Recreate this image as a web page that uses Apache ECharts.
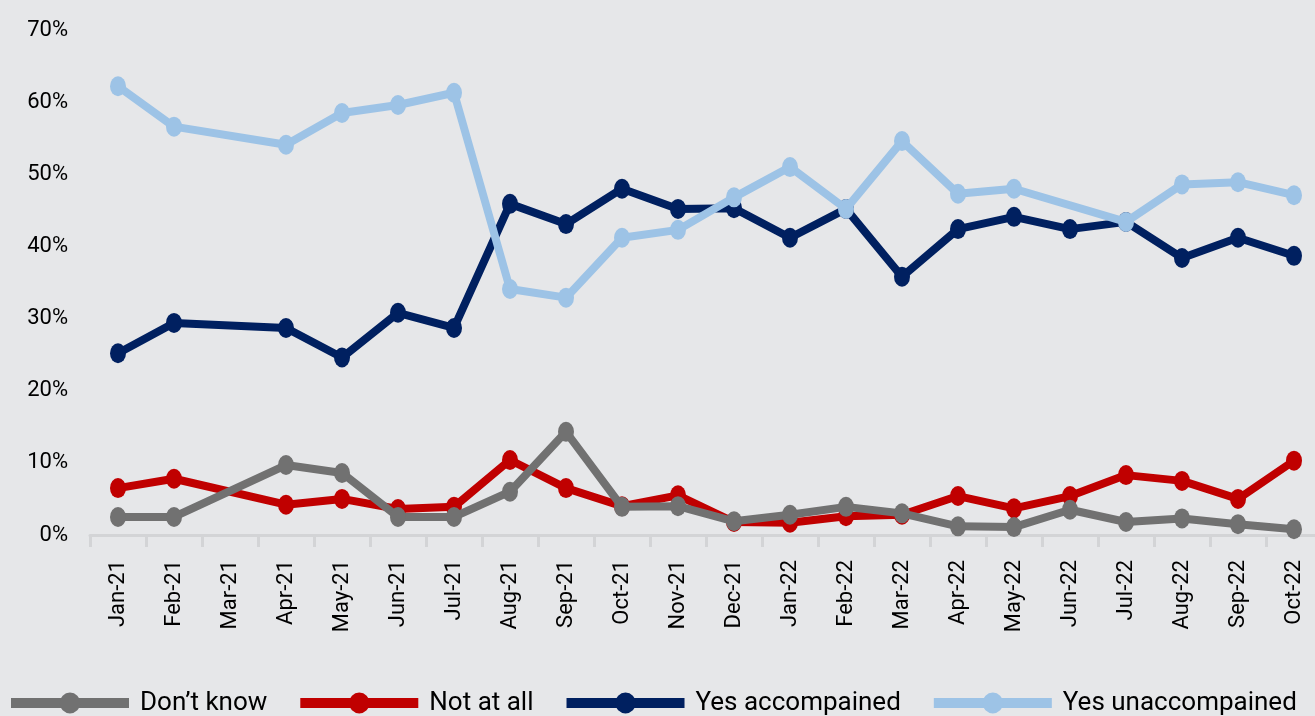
<!DOCTYPE html>
<html>
<head>
<meta charset="utf-8">
<script src="https://cdn.jsdelivr.net/npm/echarts@6/dist/echarts.min.js"></script>
<style>
  html, body { margin: 0; padding: 0; background: #e6e7e9; overflow: hidden; }
  /* a few px wider than the window: the source plot runs past its right edge */
  #chart { width: 1322px; height: 716px; }
</style>
</head>
<body>
<div id="chart"></div>
<script>
const months = ['Jan-21','Feb-21','Mar-21','Apr-21','May-21','Jun-21','Jul-21','Aug-21','Sep-21','Oct-21','Nov-21','Dec-21',
  'Jan-22','Feb-22','Mar-22','Apr-22','May-22','Jun-22','Jul-22','Aug-22','Sep-22','Oct-22'];
// values in %, null = no survey that month
const dontKnow = [2.5, 2.5, null, 9.7, 8.6, 2.5, 2.5, 6.0, 14.3, 3.9, 4.0, 1.9, 2.8, 3.9, 3.0, 1.2, 1.1, 3.5, 1.8, 2.3, 1.5, 0.8];
const notAtAll = [6.5, 7.8, null, 4.2, 5.0, 3.6, 3.9, 10.4, 6.5, 4.0, 5.5, 1.8, 1.7, 2.6, 2.8, 5.4, 3.7, 5.4, 8.3, 7.5, 5.0, 10.3];
const yesAccompained = [25.2, 29.4, null, 28.7, 24.6, 30.8, 28.7, 45.9, 43.1, 48.0, 45.2, 45.3, 41.2, 45.2, 35.8, 42.4, 44.1, 42.4, 43.4, 38.4, 41.2, 38.7];
const yesUnaccompained = [62.2, 56.6, null, 54.1, 58.5, 59.6, 61.3, 34.1, 32.9, 41.2, 42.3, 46.8, 51.0, 45.2, 54.6, 47.3, 48.0, null, 43.4, 48.6, 48.9, 47.1];

const ellipse = 'path://M50 0A50 50 0 1 1 50 100A50 50 0 1 1 50 0Z';
const font = 'Roboto';

function lineSeries(name, data, color, z) {
  return {
    name: name,
    type: 'line',
    data: data,
    z: z,
    connectNulls: true,
    symbol: ellipse,
    symbolSize: [16, 20],
    showAllSymbol: true,
    lineStyle: { color: color, width: 8 },
    itemStyle: { color: color },
    emphasis: { disabled: true }
  };
}

const chart = echarts.init(document.getElementById('chart'));
chart.setOption({
  backgroundColor: '#e6e7e9',
  animation: false,
  textStyle: { fontFamily: font },
  grid: { left: 90, right: 0, top: 30, bottom: 181 },
  legend: {
    data: ["Don\u2019t know", 'Not at all', 'Yes accompained', 'Yes unaccompained'],
    left: 1,
    top: 685,
    width: 1400,
    itemWidth: 118,
    itemHeight: 26,
    itemGap: 28,
    lineStyle: { width: 10 },
    itemStyle: { borderWidth: 0 },
    textStyle: { fontFamily: font, fontSize: 26, color: '#000', padding: [0, 0, 0, 6] }
  },
  xAxis: {
    type: 'category',
    data: months,
    boundaryGap: true,
    offset: 5,
    axisLine: { lineStyle: { color: '#d3d4d6', width: 3 } },
    axisTick: { show: true, interval: 0, length: 12, lineStyle: { color: '#d3d4d6', width: 3 } },
    axisLabel: { interval: 0, rotate: 90, margin: 20, fontFamily: font, fontSize: 22, color: '#000' },
    splitLine: { show: false }
  },
  yAxis: {
    type: 'value',
    min: 0,
    max: 70,
    interval: 10,
    axisLine: { show: false },
    axisTick: { show: false },
    splitLine: { show: false },
    axisLabel: { formatter: '{value}%', margin: 22, fontFamily: font, fontSize: 22, color: '#000' }
  },
  series: [
    lineSeries("Don\u2019t know", dontKnow, '#717171', 4),
    lineSeries('Not at all', notAtAll, '#c00000', 3),
    lineSeries('Yes accompained', yesAccompained, '#002060', 5),
    lineSeries('Yes unaccompained', yesUnaccompained, '#9dc3e6', 6)
  ]
});
</script>
</body>
</html>
